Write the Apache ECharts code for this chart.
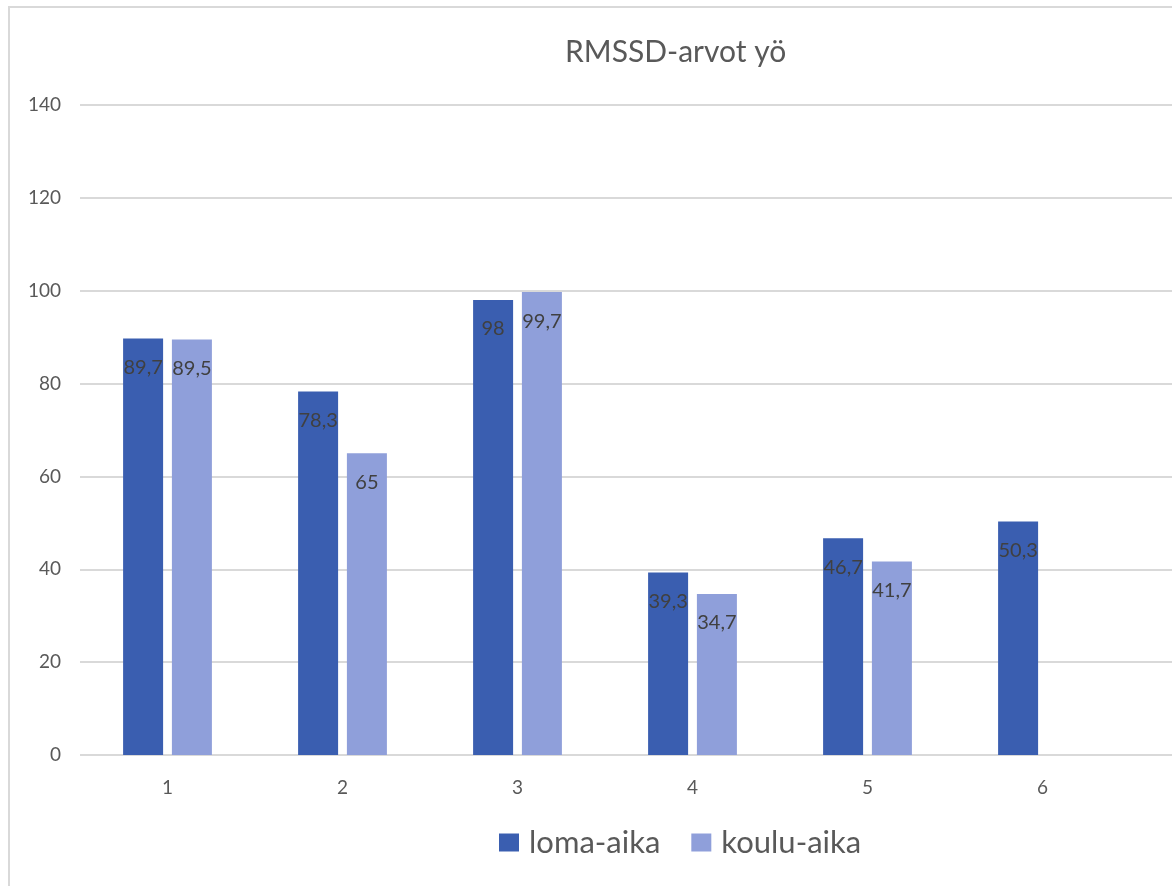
<!DOCTYPE html>
<html>
<head>
<meta charset="utf-8">
<script src="https://cdn.jsdelivr.net/npm/echarts@6/dist/echarts.min.js"></script>
<style>
  html, body { margin: 0; padding: 0; background: #fff; overflow: hidden; }
  #frame { position: absolute; left: 8px; top: 6px; width: 1300px; height: 1000px; border-left: 2px solid #d9d9d9; border-top: 2px solid #d9d9d9; }
  #chart { position: absolute; left: 0; top: 0; width: 1172px; height: 886px; }
</style>
</head>
<body>
<div id="frame"></div>
<div id="chart"></div>
<script>
const categories = ['1', '2', '3', '4', '5', '6'];
const lomaAika = [89.7, 78.3, 98, 39.3, 46.7, 50.3];
const kouluAika = [89.5, 65, 99.7, 34.7, 41.7, null];
const seriesNames = ['loma-aika', 'koulu-aika'];
const titleText = 'RMSSD-arvot yö';

const FONT = 'Lato, "Noto Sans", sans-serif';
const TXT = '#595959';
const fmt = p => (p.value == null ? '' : String(p.value).replace('.', ','));

const labelCfg = {
  show: true,
  position: 'insideTop',
  distance: 19,
  color: '#404040',
  fontFamily: FONT,
  fontSize: 20,
  formatter: fmt
};

const chart = echarts.init(document.getElementById('chart'), null, { renderer: 'canvas' });
chart.setOption({
  backgroundColor: 'transparent',
  animation: false,
  title: {
    text: titleText,
    left: 565,
    top: 37,
    padding: 0,
    textStyle: { color: TXT, fontFamily: FONT, fontSize: 30, fontWeight: 'normal' }
  },
  legend: {
    data: seriesNames,
    left: 499,
    top: 827,
    padding: 0,
    itemWidth: 20,
    itemHeight: 18,
    itemGap: 31,
    icon: 'rect',
    textStyle: { color: TXT, fontFamily: FONT, fontSize: 31, padding: [0, 0, 0, 5] }
  },
  grid: [
    { left: 80, width: 1050, top: 105, bottom: 131, containLabel: false },
    { left: 80, right: -10, top: 105, bottom: 131, containLabel: false }
  ],
  xAxis: [
    {
      type: 'category',
      gridIndex: 0,
      data: categories,
      axisLine: { show: false },
      axisTick: { show: false },
      axisLabel: { color: TXT, fontFamily: FONT, fontSize: 19, margin: 23 }
    },
    { type: 'value', gridIndex: 1, min: 0, max: 1, show: false }
  ],
  yAxis: [
    {
      type: 'value',
      gridIndex: 0,
      min: 0, max: 140, interval: 20,
      splitLine: { show: false },
      axisLine: { show: false },
      axisTick: { show: false },
      axisLabel: { color: TXT, fontFamily: FONT, fontSize: 19, margin: 19 }
    },
    {
      type: 'value',
      gridIndex: 1,
      min: 0, max: 140, interval: 20,
      axisLine: { show: false },
      axisTick: { show: false },
      axisLabel: { show: false },
      splitLine: { show: true, lineStyle: { color: '#d9d9d9', width: 2 } }
    }
  ],
  series: [
    {
      name: seriesNames[0],
      type: 'bar',
      xAxisIndex: 0, yAxisIndex: 0,
      data: lomaAika,
      barWidth: 40,
      barGap: '22%',
      itemStyle: { color: '#3a5eb0' },
      label: labelCfg,
      z: 3
    },
    {
      name: seriesNames[1],
      type: 'bar',
      xAxisIndex: 0, yAxisIndex: 0,
      data: kouluAika,
      barWidth: 40,
      barGap: '22%',
      itemStyle: { color: '#8f9fda' },
      label: labelCfg,
      z: 3
    }
  ]
});
</script>
</body>
</html>
